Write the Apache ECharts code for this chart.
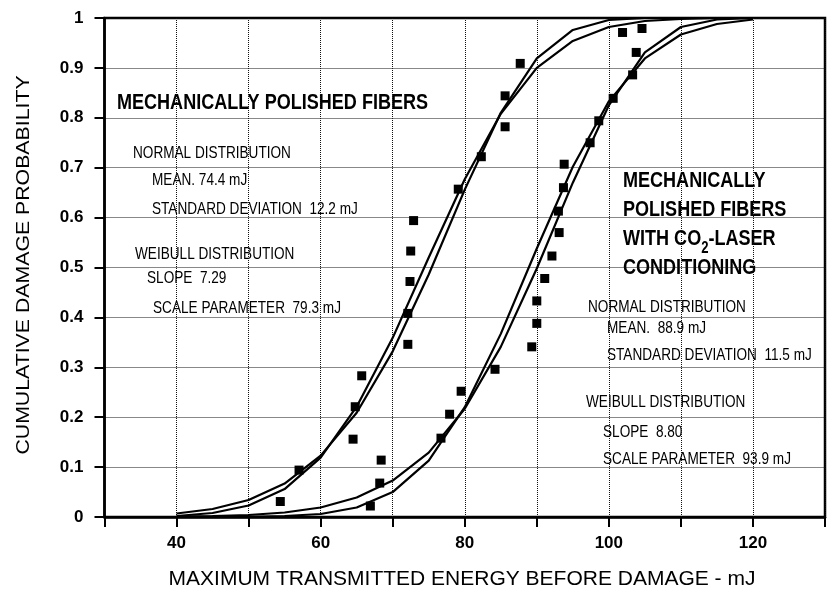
<!DOCTYPE html>
<html>
<head>
<meta charset="utf-8">
<script src="https://cdn.jsdelivr.net/npm/echarts@6/dist/echarts.min.js"></script>
<style>
  html, body { margin: 0; padding: 0; background: #fff; }
  #chart { width: 828px; height: 590px; }
</style>
</head>
<body>
<div id="chart"></div>
<script>
// measured points, mechanically polished fibers
var energyLeft = [54.4, 57.0, 64.5, 64.8, 65.7, 72.1, 72.1, 72.4, 72.5, 72.9, 79.1, 82.3, 85.6, 85.6, 87.7];
var probLeft   = [0.031, 0.094, 0.156, 0.221, 0.283, 0.346, 0.408, 0.472, 0.533, 0.594, 0.657, 0.722, 0.782, 0.844, 0.909];

// measured points, with CO2-laser conditioning
var energyRight = [66.9, 68.2, 68.4, 76.7, 77.9, 79.5, 84.2, 89.3, 90.0, 90.0, 91.1, 92.1, 93.1, 93.0, 93.7, 93.8, 97.4, 98.6, 100.6, 103.3, 103.8, 101.9, 104.6];
var probRight   = [0.022, 0.068, 0.114, 0.158, 0.206, 0.252, 0.296, 0.341, 0.388, 0.433, 0.478, 0.523, 0.570, 0.613, 0.660, 0.707, 0.750, 0.794, 0.839, 0.886, 0.931, 0.971, 0.979];

// fitted curves (every 5 mJ)
var curveEnergy  = [40, 45, 50, 55, 60, 65, 70, 75, 80, 85, 90, 95, 100, 105, 110, 115, 120];
var normalLeft   = [0.002, 0.008, 0.023, 0.056, 0.119, 0.221, 0.359, 0.520, 0.677, 0.808, 0.900, 0.954, 0.982, 0.994, 0.998, 1.0, 1.0];
var weibullLeft  = [0.007, 0.016, 0.034, 0.067, 0.123, 0.209, 0.332, 0.486, 0.656, 0.810, 0.919, 0.976, 0.996, 1.0, 1.0, 1.0, 1.0];
var normalRight  = [0.0, 0.0001, 0.0004, 0.002, 0.006, 0.019, 0.050, 0.113, 0.220, 0.367, 0.538, 0.702, 0.833, 0.919, 0.967, 0.988, 0.997];
var weibullRight = [0.001, 0.002, 0.004, 0.009, 0.019, 0.039, 0.073, 0.129, 0.217, 0.341, 0.498, 0.670, 0.825, 0.931, 0.982, 0.997, 1.0];

function pairs(xs, ys) {
    var out = [];
    for (var i = 0; i < xs.length; i++) out.push([xs[i], ys[i]]);
    return out;
}

var FONT = 'Liberation Sans, Arial, sans-serif';

function bigText(str, x, y) {
    return {
        type: 'text', x: x, y: y, scaleX: 0.82,
        style: {
            text: str, fill: '#000', font: 'bold 22px ' + FONT,
            align: 'left', verticalAlign: 'middle',
            rich: {
                sub: { fontSize: 16, fontWeight: 'bold', fontFamily: FONT, fill: '#000', padding: [20, 0, 0, 0] },
                n: { fontSize: 22, fontWeight: 'bold', fontFamily: FONT, fill: '#000' }
            }
        }
    };
}
function smallText(str, x, y) {
    return {
        type: 'text', x: x, y: y, scaleX: 0.8,
        style: { text: str, fill: '#000', font: '17px ' + FONT, align: 'left', verticalAlign: 'middle' }
    };
}

var lineStyle = { color: '#000', width: 2.2 };

var option = {
    backgroundColor: '#fff',
    animation: false,
    grid: { left: 104.5, top: 18, right: -10, bottom: 73, show: true, borderColor: '#000', borderWidth: 2.5 },
    xAxis: {
        type: 'value', min: 30, max: 130, interval: 10,
        axisLine: { lineStyle: { color: '#000', width: 2.5 } },
        axisTick: { length: 10, lineStyle: { color: '#000', width: 2 } },
        axisLabel: {
            margin: 18, color: '#000', fontSize: 17, fontWeight: 'bold', fontFamily: FONT,
            formatter: function (v) { return (v % 20 === 0 && v >= 40 && v <= 120) ? String(v) : ''; }
        },
        splitLine: { show: true, lineStyle: { color: '#111', width: 1, type: 'dotted' } }
    },
    yAxis: {
        type: 'value', min: 0, max: 1, interval: 0.1,
        axisLine: { lineStyle: { color: '#000', width: 2.5 } },
        axisTick: { length: 10, lineStyle: { color: '#000', width: 2 } },
        axisLabel: {
            margin: 21, color: '#000', fontSize: 17, fontWeight: 'bold', fontFamily: FONT,
            formatter: function (v) { return String(Math.round(v * 10) / 10); }
        },
        splitLine: { show: true, lineStyle: { color: '#111', width: 1, type: 'dotted' } }
    },
    series: [
        { type: 'line', data: pairs(curveEnergy, normalLeft), symbol: 'none', lineStyle: lineStyle },
        { type: 'line', data: pairs(curveEnergy, weibullLeft), symbol: 'none', lineStyle: lineStyle },
        { type: 'line', data: pairs(curveEnergy, normalRight), symbol: 'none', lineStyle: lineStyle },
        { type: 'line', data: pairs(curveEnergy, weibullRight), symbol: 'none', lineStyle: lineStyle },
        { type: 'scatter', data: pairs(energyLeft, probLeft), symbol: 'rect', symbolSize: 9, itemStyle: { color: '#000', opacity: 1 } },
        { type: 'scatter', data: pairs(energyRight, probRight), symbol: 'rect', symbolSize: 9, itemStyle: { color: '#000', opacity: 1 } }
    ],
    graphic: [
        bigText('MECHANICALLY POLISHED FIBERS', 117, 103),
        smallText('NORMAL DISTRIBUTION', 133, 153),
        smallText('MEAN. 74.4 mJ', 152, 180),
        smallText('STANDARD DEVIATION  12.2 mJ', 152, 209),
        smallText('WEIBULL DISTRIBUTION', 135, 254),
        smallText('SLOPE  7.29', 147, 278),
        smallText('SCALE PARAMETER  79.3 mJ', 153, 308),

        bigText('MECHANICALLY', 623, 181),
        bigText('POLISHED FIBERS', 623, 210),
        bigText('{n|WITH CO}{sub|2}{n|-LASER}', 623, 239),
        bigText('CONDITIONING', 623, 268),
        smallText('NORMAL DISTRIBUTION', 588, 307),
        smallText('MEAN.  88.9 mJ', 607, 328),
        smallText('STANDARD DEVIATION  11.5 mJ', 607, 355),
        smallText('WEIBULL DISTRIBUTION', 586, 402),
        smallText('SLOPE  8.80', 603, 432),
        smallText('SCALE PARAMETER  93.9 mJ', 603, 459),

        {
            type: 'text', x: 462, y: 579,
            style: { text: 'MAXIMUM TRANSMITTED ENERGY BEFORE DAMAGE - mJ', fill: '#000', font: '21px ' + FONT, align: 'center', verticalAlign: 'middle' }
        },
        {
            type: 'text', x: 24, y: 265, rotation: Math.PI / 2, scaleX: 1.12,
            style: { text: 'CUMULATIVE DAMAGE PROBABILITY', fill: '#000', font: '19px ' + FONT, align: 'center', verticalAlign: 'middle' }
        }
    ]
};

var myChart = echarts.init(document.getElementById('chart'));
myChart.setOption(option);
</script>
</body>
</html>
